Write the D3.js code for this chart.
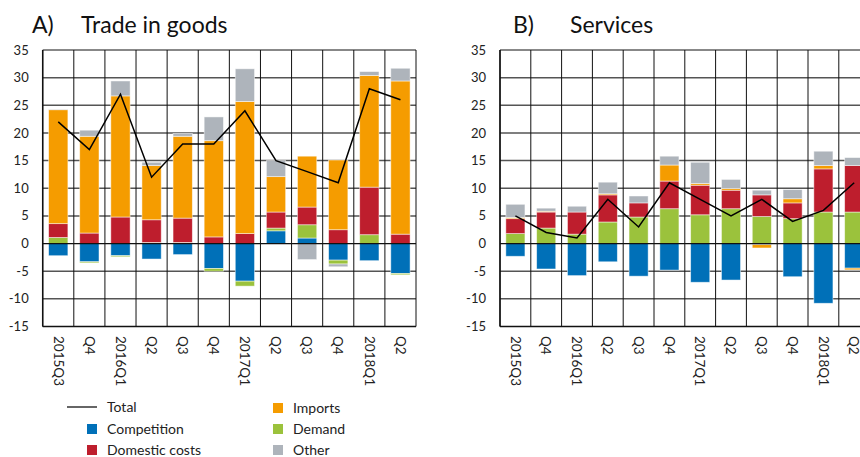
<!DOCTYPE html>
<html>
<head>
<meta charset="utf-8">
<script src="https://cdn.jsdelivr.net/npm/d3@7"></script>
<style>
  body { margin: 0; background: #fff; }
  svg { display: block; font-family: Lato, "Open Sans", sans-serif; }
</style>
</head>
<body>
<div id="chart"></div>
<script>
// categories along the x axis
const categories = ["2015Q3", "Q4", "2016Q1", "Q2", "Q3", "Q4", "2017Q1", "Q2", "Q3", "Q4", "2018Q1", "Q2"];
const yTicks = [35, 30, 25, 20, 15, 10, 5, 0, -5, -10, -15];

// A) trade in goods
const goodsCompetition = [-2.2, -3.3, -2.2, -2.8, -2.0, -4.5, -6.8, 2.3, 1.0, -3.0, -3.1, -5.4];
const goodsDemand      = [1.1, -0.2, -0.2, 0.2, 0.2, -0.5, -0.9, 0.5, 2.4, -0.7, 1.6, -0.25];
const goodsDomestic    = [2.5, 1.9, 4.8, 4.1, 4.4, 1.2, 1.8, 2.9, 3.2, 2.5, 8.6, 1.7];
const goodsImports     = [20.6, 17.5, 21.9, 9.8, 14.8, 17.4, 23.9, 6.4, 9.2, 12.6, 20.2, 27.7];
const goodsOther       = [0.1, 1.1, 2.7, 0.6, 0.5, 4.3, 5.9, 2.9, -2.9, -0.5, 0.7, 2.3];
const goodsTotal       = [22, 17, 27, 12, 18, 18, 24, 15, 13, 11, 28, 26];

// B) services
const servCompetition = [-2.3, -4.6, -5.8, -3.3, -5.9, -4.8, -7.0, -6.6, -0.2, -6.0, -10.8, -4.45];
const servDemand      = [1.8, 2.8, 1.7, 3.9, 4.8, 6.3, 5.2, 6.3, 4.9, 4.5, 5.7, 5.7];
const servDomestic    = [2.7, 2.9, 4.0, 4.9, 2.55, 5.0, 5.35, 3.35, 3.9, 2.85, 7.8, 8.4];
const servImports     = [0.2, 0.15, 0, 0.2, 0, 2.9, 0.3, 0.3, -0.6, 0.75, 0.6, -0.3];
const servOther       = [2.4, 0.55, 1.05, 2.1, 1.25, 1.6, 3.85, 1.65, 0.85, 1.65, 2.6, 1.45];
const servTotal       = [5, 2, 1, 8, 3, 11, 8, 5, 8, 4, 6, 11];

const keys = ["Competition", "Demand", "Domestic costs", "Imports", "Other"];
const colors = {
  "Competition": "#0070b8",
  "Demand": "#9bc23c",
  "Domestic costs": "#be1e2d",
  "Imports": "#f59c00",
  "Other": "#aeb4bb"
};

const width = 860, height = 457;
const svg = d3.select("#chart").append("svg")
  .attr("width", width).attr("height", height);

function toRows(comp, dem, dom, imp, oth) {
  return categories.map((c, i) => ({
    i: i,
    "Competition": comp[i], "Demand": dem[i], "Domestic costs": dom[i],
    "Imports": imp[i], "Other": oth[i]
  }));
}

function panel(opts) {
  const g = svg.append("g");
  const y = d3.scaleLinear().domain([-15, 35]).range([326.5, 50]);
  const x = d3.scaleBand().domain(d3.range(categories.length))
    .range([opts.left, opts.right]).paddingInner(0.38).paddingOuter(0.19);
  const step = x.step();

  // horizontal grid
  g.selectAll(".hgrid").data(yTicks.filter(t => t !== 0 && t !== -15 && t !== 35)).enter()
    .append("line")
    .attr("x1", opts.left).attr("x2", opts.right)
    .attr("y1", d => y(d)).attr("y2", d => y(d))
    .attr("stroke", "#555").attr("stroke-width", 1.5);
  // vertical grid
  g.selectAll(".vgrid").data(d3.range(categories.length + 1)).enter()
    .append("line")
    .attr("x1", d => opts.left + d * step).attr("x2", d => opts.left + d * step)
    .attr("y1", y(35)).attr("y2", y(-15))
    .attr("stroke", "#111").attr("stroke-width", 1);
  // top and bottom borders
  [35, -15].forEach(t => {
    g.append("line").attr("x1", opts.left).attr("x2", opts.right)
      .attr("y1", y(t)).attr("y2", y(t))
      .attr("stroke", "#111").attr("stroke-width", t === -15 ? 1.5 : 1);
  });
  g.append("line").attr("x1", opts.left).attr("x2", opts.left)
    .attr("y1", y(35)).attr("y2", y(-15)).attr("stroke", "#111").attr("stroke-width", 1.5);

  // stacked bars
  const rows = toRows(...opts.series);
  const stacked = d3.stack().keys(keys).offset(d3.stackOffsetDiverging)(rows);
  g.selectAll(".layer").data(stacked).enter()
    .append("g").attr("fill", d => colors[d.key])
    .selectAll("rect").data(d => d).enter()
    .append("rect")
      .attr("x", d => x(d.data.i))
      .attr("y", d => y(Math.max(d[0], d[1])))
      .attr("width", x.bandwidth())
      .attr("height", d => Math.abs(y(d[0]) - y(d[1])))
      .attr("stroke", "#fff").attr("stroke-opacity", 0.6).attr("stroke-width", 0.8);

  // zero line over bars
  g.append("line").attr("x1", opts.left).attr("x2", opts.right)
    .attr("y1", y(0)).attr("y2", y(0))
    .attr("stroke", "#111").attr("stroke-width", 1.2);

  // total line
  const line = d3.line()
    .x((d, i) => x(i) + x.bandwidth() / 2)
    .y(d => y(d));
  g.append("path").datum(opts.total)
    .attr("d", line).attr("fill", "none")
    .attr("stroke", "#000").attr("stroke-width", 1.5);

  // y tick labels
  g.selectAll(".ytick").data(yTicks).enter()
    .append("text")
    .attr("x", opts.left - 14).attr("y", d => y(d))
    .attr("dy", "0.35em").attr("text-anchor", "end")
    .attr("font-size", 13).attr("fill", "#222")
    .text(d => d);

  // x tick labels (rotated)
  g.selectAll(".xtick").data(categories).enter()
    .append("text")
    .attr("transform", (d, i) => `translate(${x(i) + x.bandwidth() / 2},336) rotate(90)`)
    .attr("dy", "0.35em")
    .attr("font-size", 13.5).attr("fill", "#222")
    .text(d => d);

  // title
  g.append("text").attr("x", opts.labelX).attr("y", 33)
    .attr("font-size", 23).attr("fill", "#111").text(opts.label);
  g.append("text").attr("x", opts.titleX).attr("y", 33)
    .attr("font-size", 23).attr("fill", "#111").text(opts.title);
}

panel({
  left: 42.7, right: 416,
  series: [goodsCompetition, goodsDemand, goodsDomestic, goodsImports, goodsOther],
  total: goodsTotal,
  label: "A)", labelX: 32, title: "Trade in goods", titleX: 81
});
panel({
  left: 500, right: 869.6,
  series: [servCompetition, servDemand, servDomestic, servImports, servOther],
  total: servTotal,
  label: "B)", labelX: 513, title: "Services", titleX: 570
});

// legend
const legend = svg.append("g").attr("font-size", 14).attr("fill", "#222");
legend.append("line").attr("x1", 67).attr("x2", 97)
  .attr("y1", 407).attr("y2", 407).attr("stroke", "#000").attr("stroke-width", 1.2);
legend.append("text").attr("x", 107).attr("y", 407).attr("dy", "0.35em").text("Total");

const legendItems = [
  { key: "Competition", x: 87, y: 429 },
  { key: "Domestic costs", x: 87, y: 450 },
  { key: "Imports", x: 273, y: 408 },
  { key: "Demand", x: 273, y: 429 },
  { key: "Other", x: 273, y: 450 }
];
legendItems.forEach(it => {
  legend.append("rect").attr("x", it.x).attr("y", it.y - 5)
    .attr("width", 10).attr("height", 10).attr("fill", colors[it.key]);
  legend.append("text").attr("x", it.x + 20).attr("y", it.y)
    .attr("dy", "0.35em").text(it.key);
});
</script>
</body>
</html>
